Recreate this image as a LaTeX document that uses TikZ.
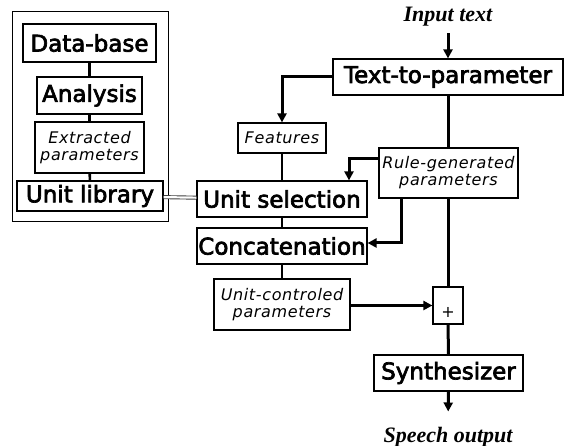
\documentclass[tikz,border=0pt]{standalone}
\usepackage{fontspec}
\setmainfont{Liberation Serif}
\newfontfamily\stagefont[FakeBold=3]{DejaVu Sans}
\newfontfamily\paramfont[LetterSpace=4]{DejaVu Sans}
\usepackage{tikz}
\usetikzlibrary{arrows.meta}
\usetikzlibrary{positioning}

\tikzset{
  stage/.style={draw=black, line width=1.2pt, inner sep=0pt, minimum height=36pt,
    font=\stagefont\fontsize{23}{26}\selectfont},
  param/.style={draw=black, line width=1.2pt, inner sep=0pt, align=center,
    font=\paramfont\itshape\fontsize{16}{17}\selectfont},
  ioText/.style={font=\rmfamily\bfseries\itshape\fontsize{22}{24}\selectfont},
  wire/.style={line width=2.6pt},
  bus/.style={line width=3pt},
  flow/.style={line width=3pt, ->},
  link/.style={double=white, double distance=2.2pt, line width=0.9pt, draw=black!75},
  >={Triangle[length=9pt,width=9pt]}
}

\begin{document}
\begin{tikzpicture}[x=1pt, y=-1pt]
    \useasboundingbox (0,0) rectangle (566,446);
    % library side
    \node[draw=black, line width=1pt, minimum width=156pt, minimum height=210pt] (libframe) at (90,117) {};
    \node[stage, minimum width=133pt, minimum height=38pt] (database) at (89.5,43) {Data-base};
    \node[stage, minimum width=105pt, minimum height=37pt] (analysis) at (89.5,95.5) {Analysis};
    \node[param, minimum width=109pt, minimum height=51pt] (extracted) at (89.5,147.5) {Extracted\\parameters};
    \node[stage, minimum width=146pt, minimum height=30pt] (unitlib) at (90,196) {Unit library};
    % synthesis side
    \node[ioText] (input) at (448,17) {Input text};
    \node[stage, minimum width=230pt] (t2p) at (448,77) {Text-to-parameter};
    \node[param, minimum width=88pt, minimum height=30pt] (features) at (282,138) {Features};
    \node[param, minimum width=139pt, minimum height=50pt] (rulegen) at (448.5,173) {Rule-generated\\parameters};
    \node[stage, minimum width=170pt] (unitsel) at (282,199) {Unit selection};
    \node[stage, minimum width=170pt] (concat) at (282,246) {Concatenation};
    \node[param, minimum width=136pt, minimum height=51pt] (unitctrl) at (282,304.5) {Unit-controled\\parameters};
    \node[draw=black, line width=1.2pt, inner sep=0pt, minimum width=30pt, minimum height=37pt,
      text height=25pt, text depth=0pt, font=\paramfont\fontsize{16}{18}\selectfont] (plus) at (448,305.5) {+};
    \node[stage, minimum width=149pt] (synth) at (448.5,373) {Synthesizer};
    \node[ioText] (speech) at (448,437) {Speech output};

    \draw [wire] (database) -- (analysis);
    \draw [wire] (analysis) -- (extracted);
    \draw [wire] (extracted) -- (unitlib);
    \draw [link] (unitlib) -- (unitsel);

    \draw [flow, shorten <=3pt] (input) -- (t2p);
    \draw [flow] (t2p.west) -| (features.north);
    \draw [wire] (features) -- (unitsel);
    \draw [bus] (t2p.south) -- (t2p.south |- rulegen.north);
    \draw [flow] ([yshift=14pt]rulegen.west) -| ([xshift=67pt]unitsel.north);
    \draw [flow] ([xshift=-47.5pt]rulegen.south) |- ([yshift=3pt]concat.east);
    \draw [bus] (rulegen.south -| plus.north) -- (plus.north);
    \draw [wire] (unitsel) -- (concat);
    \draw [wire] (concat) -- (unitctrl);
    \draw [flow] (unitctrl.east |- plus.west) -- (plus.west);
    \draw [bus] (plus) -- (synth);
    \draw [flow, shorten >=12pt] (synth) -- (speech);
\end{tikzpicture}
\end{document}
